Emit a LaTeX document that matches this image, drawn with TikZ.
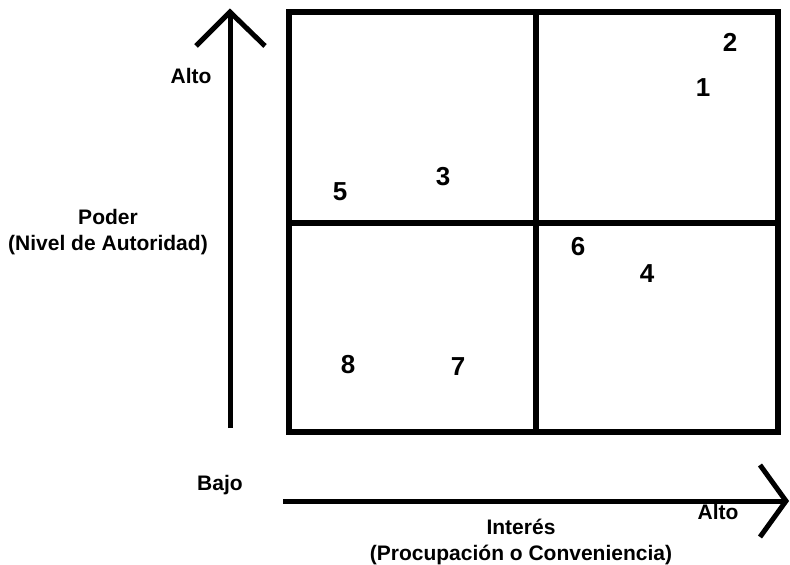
\documentclass[tikz,border=0pt]{standalone}
\usepackage{fontspec}
\setmainfont{Liberation Sans}
\begin{document}
\begin{tikzpicture}[x=1pt,y=-1pt,
  axis/.style={line width=5pt},
  grid/.style={line width=5.5pt},
  lbl/.style={font=\fontsize{21}{26}\selectfont\bfseries, align=center, inner sep=0pt},
  num/.style={font=\fontsize{26}{28}\selectfont\bfseries, inner sep=0pt}]
\useasboundingbox (0,0) rectangle (790,565);

% grid corners and dividers
\coordinate (tl) at (289,12);
\coordinate (br) at (778,432);
\coordinate (mt) at (536,12);
\coordinate (mb) at (536,432);
\coordinate (ml) at (289,223);
\coordinate (mr) at (778,223);
\draw[grid] (tl) rectangle (br);
\draw[grid] (mt) -- (mb);
\draw[grid] (ml) -- (mr);

% vertical axis: power
\coordinate (vbase) at (230,428);
\coordinate (vtip) at (230,12);
\coordinate (vwl) at (196,46);
\coordinate (vwr) at (265,46);
\draw[axis] (vbase) -- (vtip);
\draw[axis, line join=miter] (vwl) -- (vtip) -- (vwr);

% horizontal axis: interest
\coordinate (hbase) at (283,501);
\coordinate (htip) at (786,501);
\coordinate (hwu) at (760,465);
\coordinate (hwd) at (760,537);
\draw[axis] (hbase) -- (htip);
\draw[axis, line join=miter] (hwu) -- (htip) -- (hwd);

% axis labels
\node[lbl] (altoV) at (191,76) {Alto};
\node[lbl] (poder) at (108,232) {Poder\\(Nivel de Autoridad)};
\node[lbl] (bajo) at (220,485) {Bajo};
\node[lbl] (interes) at (521,542) {Interés\\(Procupación o Conveniencia)};
\node[lbl] (altoH) at (718,512) {Alto};

% stakeholders
\node[num] (n2) at (730,42) {2};
\node[num] (n1) at (703,88) {1};
\node[num] (n3) at (443,177) {3};
\node[num] (n5) at (340,192) {5};
\node[num] (n6) at (578,247) {6};
\node[num] (n4) at (647,274) {4};
\node[num] (n8) at (348,365) {8};
\node[num] (n7) at (458,367) {7};
\end{tikzpicture}
\end{document}
